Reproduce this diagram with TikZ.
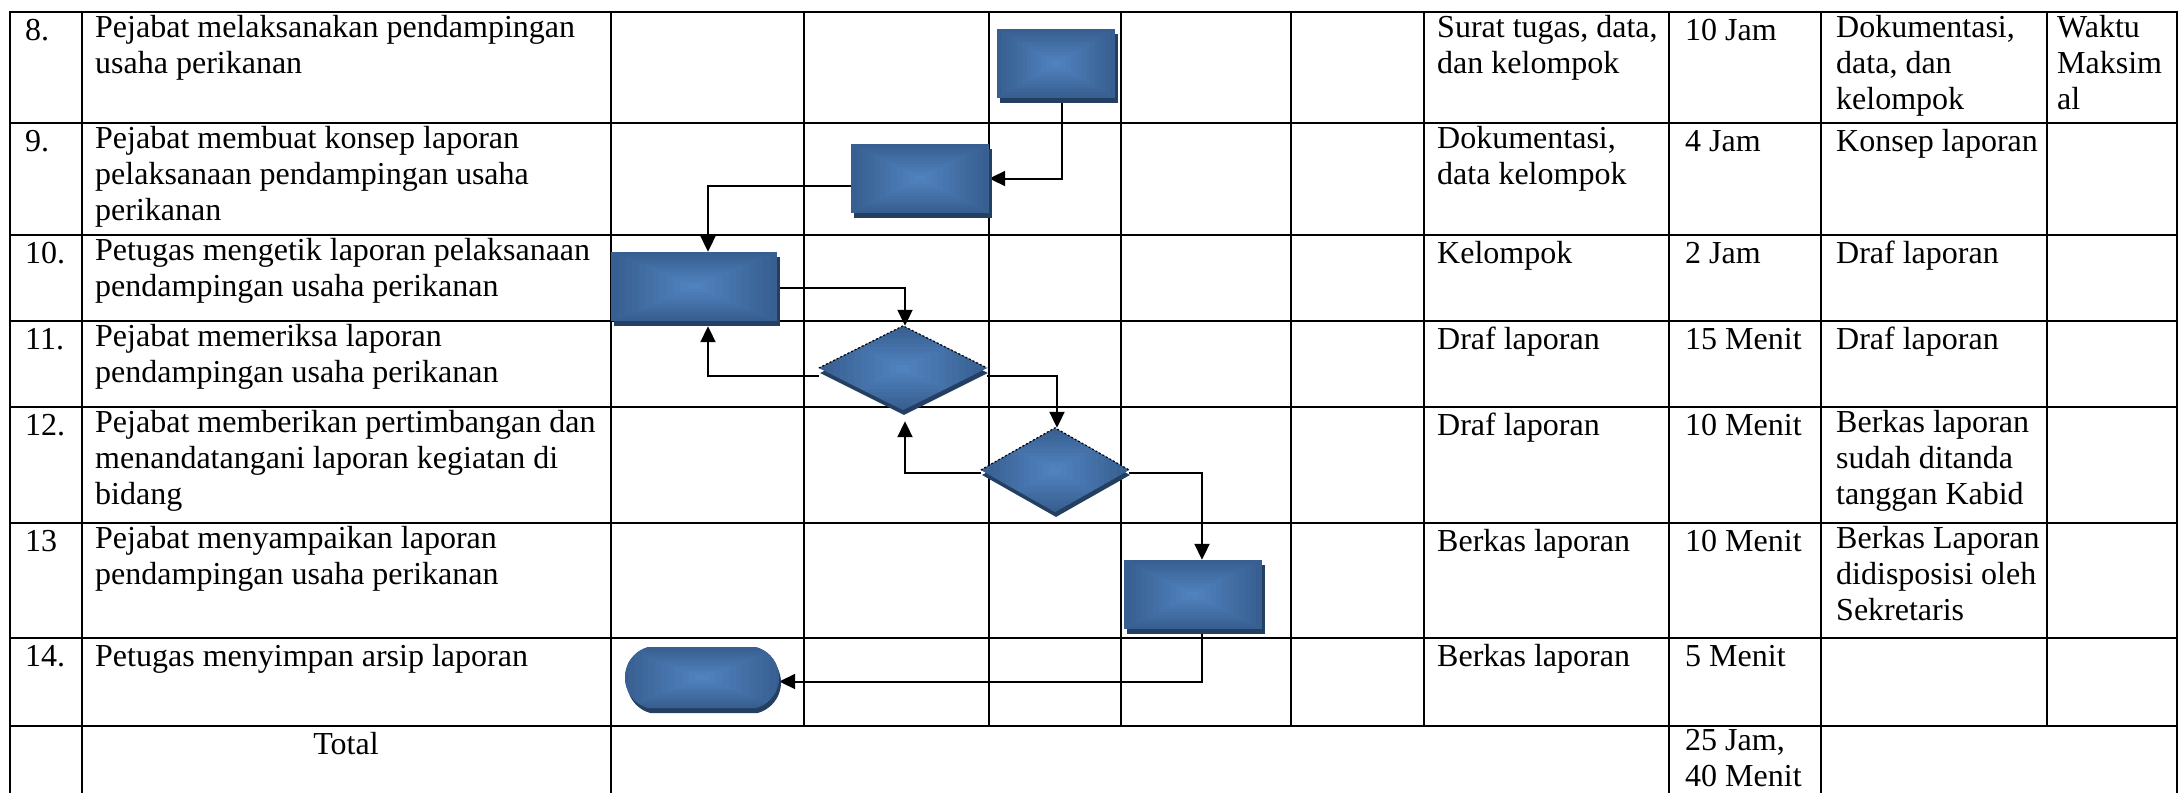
\documentclass[tikz,border=0pt]{standalone}
\usepackage{fontspec}
\setmainfont{Liberation Serif}
\usetikzlibrary{arrows.meta,shapes.geometric,shapes.misc,shadows,calc}
\definecolor{bluein}{RGB}{80,130,190}
\definecolor{blueout}{RGB}{56,95,145}
\definecolor{blueshadow}{RGB}{37,63,99}
\pgfdeclarelayer{lines}
\pgfdeclarelayer{conn}
\pgfsetlayers{lines,conn,main}
\begin{document}
\begin{tikzpicture}[x=1pt,y=-1pt,
  grid/.style={line width=2.4pt,black},
  shp/.style={inner sep=0pt, fill=blueout, path picture={
      \foreach \i [evaluate=\i as \f using {1-\i/12}, evaluate=\i as \p using {100*\i/11}] in {0,...,11}
        \fill[bluein!\p!blueout]
          ($(path picture bounding box.center)!\f!(path picture bounding box.south west)$) rectangle
          ($(path picture bounding box.center)!\f!(path picture bounding box.north east)$);}},
  box/.style={shp, shape=rectangle, general shadow={fill=blueshadow, shadow xshift=3pt, shadow yshift=-5pt}},
  dec/.style={shp, shape=diamond, shape aspect=2, general shadow={fill=blueshadow, shadow xshift=1pt, shadow yshift=-5pt}},
  term/.style={shp, shape=rounded rectangle, rounded rectangle arc length=150, general shadow={fill=blueshadow, shadow xshift=2pt, shadow yshift=-5pt}},
  fringe/.style={black, line width=1.2pt, dash pattern=on 2pt off 2pt},
  arr/.style={line width=2pt, -{Triangle[length=16pt,width=15pt]}},
  cell/.style={anchor=north west, inner sep=0pt, align=left, font=\fontsize{32pt}{36pt}\selectfont, execute at begin node=\strut},
]
\useasboundingbox (0,0) rectangle (2180,793);

% table grid
\begin{pgfonlayer}{lines}
\foreach \yy in {12,123,235,321,407,523,638,726} \draw[grid] (8.8,\yy) -- (2178.2,\yy);
\foreach \xx in {10,82,611,1669,1821,2177} \draw[grid] (\xx,10.8) -- (\xx,793);
\foreach \xx in {804,989,1121,1291,1424,2047} \draw[grid] (\xx,10.8) -- (\xx,726);
\end{pgfonlayer}

% flow shapes
\node[box, minimum width=118pt, minimum height=69pt] (r8) at (1056,63.5) {};
\node[box, minimum width=138pt, minimum height=69pt] (r9) at (920,178.5) {};
\node[box, minimum width=166pt, minimum height=69pt] (r10) at (694,286.5) {};
\node[dec, minimum width=168pt, minimum height=84pt] (d11) at (903,368) {};
\node[dec, minimum width=148pt, minimum height=84pt] (d12) at (1055,470) {};
\node[box, minimum width=138pt, minimum height=69pt] (r13) at (1193,594.5) {};
\node[term, minimum width=154pt, minimum height=61pt] (t14) at (702,677.5) {};
\draw[fringe] (d11.west) -- (d11.north) -- (d11.east);
\draw[fringe] (d12.west) -- (d12.north) -- (d12.east);

% connectors
\begin{pgfonlayer}{conn}
\draw[arr] ($(r8.south)+(6,0)$) |- (r9.east);
\draw[arr] ($(r9.west)+(0,7.5)$) -| ($(r10.north)+(14,0)$);
\draw[arr] ($(r10.east)+(0,1.5)$) -| ($(d11.north)+(2,0)$);
\draw[arr] ($(d11.west)+(0,8)$) -| ($(r10.south)+(14,5)$);
\draw[arr] ($(d11.east)+(0,8)$) -| ($(d12.north)+(2,0)$);
\draw[arr] ($(d12.west)+(0,3)$) -| ($(d11.south)+(2,11)$);
\draw[arr] ($(d12.east)+(0,3)$) -| ($(r13.north)+(9,0)$);
\draw[arr] ($(r13.south)+(9,5)$) |- ($(t14.east)+(0,4)$);
\end{pgfonlayer}

% row 8
\node[cell] (n8) at (25,15.5) {8.};
\node[cell] (a8) at (95,15.5) {Pejabat melaksanakan pendampingan\\usaha perikanan};
\node[cell] (k8) at (1437,15.5) {Surat tugas, data,\\dan kelompok};
\node[cell] (w8) at (1685,15.5) {10 Jam};
\node[cell] (o8) at (1836,15.5) {Dokumentasi,\\data, dan\\kelompok};
\node[cell] (e8) at (2057,15.5) {Waktu\\Maksim\\al};
% row 9
\node[cell] (n9) at (25,126.5) {9.};
\node[cell] (a9) at (95,126.5) {Pejabat membuat konsep laporan\\pelaksanaan pendampingan usaha\\perikanan};
\node[cell] (k9) at (1437,126.5) {Dokumentasi,\\data kelompok};
\node[cell] (w9) at (1685,126.5) {4 Jam};
\node[cell] (o9) at (1836,126.5) {Konsep laporan};
% row 10
\node[cell] (n10) at (25,238.5) {10.};
\node[cell] (a10) at (95,238.5) {Petugas mengetik laporan pelaksanaan\\pendampingan usaha perikanan};
\node[cell] (k10) at (1437,238.5) {Kelompok};
\node[cell] (w10) at (1685,238.5) {2 Jam};
\node[cell] (o10) at (1836,238.5) {Draf laporan};
% row 11
\node[cell] (n11) at (25,324.5) {11.};
\node[cell] (a11) at (95,324.5) {Pejabat memeriksa laporan\\pendampingan usaha perikanan};
\node[cell] (k11) at (1437,324.5) {Draf laporan};
\node[cell] (w11) at (1685,324.5) {15 Menit};
\node[cell] (o11) at (1836,324.5) {Draf laporan};
% row 12
\node[cell] (n12) at (25,410.5) {12.};
\node[cell] (a12) at (95,410.5) {Pejabat memberikan pertimbangan dan\\menandatangani laporan kegiatan di\\bidang};
\node[cell] (k12) at (1437,410.5) {Draf laporan};
\node[cell] (w12) at (1685,410.5) {10 Menit};
\node[cell] (o12) at (1836,410.5) {Berkas laporan\\sudah ditanda\\tanggan Kabid};
% row 13
\node[cell] (n13) at (25,526.5) {13};
\node[cell] (a13) at (95,526.5) {Pejabat menyampaikan laporan\\pendampingan usaha perikanan};
\node[cell] (k13) at (1437,526.5) {Berkas laporan};
\node[cell] (w13) at (1685,526.5) {10 Menit};
\node[cell] (o13) at (1836,526.5) {Berkas Laporan\\didisposisi oleh\\Sekretaris};
% row 14
\node[cell] (n14) at (25,641.5) {14.};
\node[cell] (a14) at (95,641.5) {Petugas menyimpan arsip laporan};
\node[cell] (k14) at (1437,641.5) {Berkas laporan};
\node[cell] (w14) at (1685,641.5) {5 Menit};
% total
\node[cell, anchor=north, align=center] (tot) at (346,729.5) {Total};
\node[cell] (wt) at (1685,729.5) {25 Jam,\\40 Menit};
\end{tikzpicture}
\end{document}
